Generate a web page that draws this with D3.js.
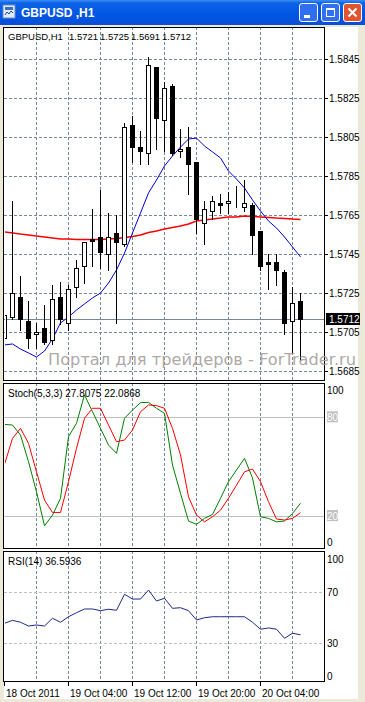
<!DOCTYPE html>
<html>
<head>
<meta charset="utf-8">
<script src="https://cdnjs.cloudflare.com/ajax/libs/d3/7.8.5/d3.min.js"></script>
<style>
body { margin:0; background:#ece9d8; overflow:hidden; }
svg text { font-family: "Liberation Sans", Arial, sans-serif; }
</style>
</head>
<body>
<div id="chart"></div>
<script>
// bars: GBPUSD H1, 18 Oct 20:00 .. 20 Oct 09:00
var open  = [1.5702,1.5713,1.5723,1.5711,1.5704,1.5707,1.5701,1.5723,1.5710,1.5728,1.5739,1.5753,1.5754,1.5745,1.5756,1.5750,1.5811,1.5800,1.5797,1.5841,1.5814,1.5831,1.5798,1.5800,1.5792,1.5761,1.5767,1.5771,1.5771,1.5771,1.5769,1.5770,1.5757,1.5741,1.5741,1.5736,1.5711,1.5721];
var high  = [1.5715,1.5772,1.5734,1.5721,1.5710,1.5719,1.5729,1.5731,1.5729,1.5742,1.5751,1.5768,1.5778,1.5766,1.5765,1.5812,1.5816,1.5808,1.5846,1.5841,1.5833,1.5832,1.5809,1.5810,1.5792,1.5772,1.5775,1.5776,1.5777,1.5780,1.5783,1.5771,1.5757,1.5745,1.5745,1.5737,1.5728,1.5725];
var low   = [1.5701,1.5712,1.5706,1.5697,1.5697,1.5699,1.5699,1.5709,1.5706,1.5723,1.5730,1.5739,1.5738,1.5737,1.5710,1.5749,1.5792,1.5791,1.5791,1.5799,1.5798,1.5796,1.5795,1.5776,1.5756,1.5750,1.5763,1.5766,1.5766,1.5769,1.5767,1.5745,1.5737,1.5727,1.5729,1.5704,1.5695,1.5691];
var close = [1.5714,1.5725,1.5712,1.5702,1.5705,1.5700,1.5722,1.5712,1.5727,1.5738,1.5751,1.5752,1.5746,1.5754,1.5751,1.5810,1.5800,1.5798,1.5842,1.5815,1.5830,1.5797,1.5799,1.5791,1.5763,1.5768,1.5772,1.5770,1.5772,1.5771,1.5771,1.5755,1.5739,1.5740,1.5737,1.5710,1.5720,1.5712];

var maFast = [1.56985,1.56990,1.56964,1.56944,1.56923,1.56954,1.57016,1.57098,1.57128,1.57164,1.57195,1.57226,1.57251,1.57302,1.57369,1.57456,1.57559,1.57661,1.57764,1.57830,1.57902,1.57953,1.57999,1.58040,1.58045,1.58004,1.57974,1.57943,1.57876,1.57835,1.57789,1.57728,1.57671,1.57620,1.57584,1.57538,1.57487,1.57436];
var maSlow = [1.57564,1.57559,1.57553,1.57548,1.57543,1.57538,1.57533,1.57528,1.57528,1.57525,1.57525,1.57525,1.57525,1.57528,1.57530,1.57536,1.57541,1.57548,1.57561,1.57569,1.57579,1.57587,1.57594,1.57605,1.57620,1.57625,1.57630,1.57635,1.57641,1.57641,1.57646,1.57643,1.57641,1.57638,1.57635,1.57633,1.57630,1.57628];

var stochMain   = [75.7,75.3,69.2,53.0,34.8,14.1,20.6,30.8,68.2,76.4,93.6,83.4,73.3,63.2,58.1,79.4,84.4,88.9,89.1,85.5,82.4,51.0,33.8,17.0,15.0,18.6,21.0,30.8,40.9,48.0,55.1,43.1,19.6,18.6,16.5,17.0,21.6,27.8075];
var stochSignal = [51.4,67.2,73.3,64.2,46.9,29.7,22.2,22.2,40.9,61.2,79.4,85.5,85.5,75.3,65.2,66.2,72.3,83.4,87.5,87.1,85.5,73.3,57.1,31.7,20.6,16.5,19.6,23.6,30.8,38.8,46.9,48.6,40.9,28.7,18.2,17.6,18.6,22.0868];
var rsi = [45.5,47.8,46.3,43.4,44.2,43.4,49.4,46.3,50.6,53.7,56.6,56.6,55.3,56.4,55.6,68.0,64.3,64.3,71.3,62.8,64.9,57.1,57.6,55.3,48.1,49.8,50.6,50.6,50.6,50.6,50.6,46.3,40.9,41.9,40.9,33.9,37.8,36.5936];

var priceTicks = [1.5845,1.5825,1.5805,1.5785,1.5765,1.5745,1.5725,1.5705,1.5685];
var gridBars = [4,8,12,16,20,24,28,32,36];
var xLabelBars = [0,8,16,24,32];
var xLabels = ["18 Oct 2011","19 Oct 04:00","19 Oct 12:00","19 Oct 20:00","20 Oct 04:00"];
var stochLevels = [80,20];
var rsiLevels = [70,30];

var W = 365, H = 702;
var L = 4, R = 324;
var main = {top:27, bottom:381}, sto = {top:383, bottom:549}, rs = {top:551, bottom:682};

var svg = d3.select("#chart").append("svg")
  .attr("width", W).attr("height", H);

var defs = svg.append("defs");
var grad = defs.append("linearGradient").attr("id","tb")
  .attr("x1",0).attr("y1",0).attr("x2",0).attr("y2",1);
grad.append("stop").attr("offset","0%").attr("stop-color","#3d8ff6");
grad.append("stop").attr("offset","12%").attr("stop-color","#0c63e6");
grad.append("stop").attr("offset","60%").attr("stop-color","#0055e3");
grad.append("stop").attr("offset","100%").attr("stop-color","#0a4fd6");

// chart background
svg.append("rect").attr("x",0).attr("y",25).attr("width",W).attr("height",H-25).attr("fill","#ece9d8");
svg.append("rect").attr("x",L).attr("y",main.top).attr("width",358-L).attr("height",rs.bottom+17-main.top).attr("fill","#fff");

// title bar
svg.append("rect").attr("x",0).attr("y",0).attr("width",W).attr("height",25).attr("fill","url(#tb)");
var icon = svg.append("g").attr("transform","translate(3,5)");
icon.append("rect").attr("width",12).attr("height",13).attr("fill","#dfe9f7").attr("stroke","#6d8cc4");
icon.append("rect").attr("x",2).attr("y",2).attr("width",8).attr("height",3).attr("fill","#3a6fc8");
icon.append("path").attr("d","M2,10 L4,7 L6,9 L8,6 L10,8").attr("fill","none").attr("stroke","#1c4fa8");
svg.append("text").attr("x",21).attr("y",17).attr("fill","#fff")
  .style("font-weight","bold").style("font-size","12px").text("GBPUSD ,H1");

function button(x, fill, kind) {
  var g = svg.append("g").attr("transform","translate(" + x + ",3)");
  g.append("rect").attr("x",0.5).attr("y",0.5).attr("width",18).attr("height",18).attr("rx",2.5)
    .attr("fill",fill).attr("stroke","#fff");
  if (kind == "min") g.append("rect").attr("x",5).attr("y",12).attr("width",6).attr("height",3).attr("fill","#fff");
  if (kind == "max") {
    g.append("rect").attr("x",5.5).attr("y",5.5).attr("width",8).attr("height",8).attr("fill","none").attr("stroke","#fff");
    g.append("rect").attr("x",5).attr("y",5).attr("width",9).attr("height",2).attr("fill","#fff");
  }
  if (kind == "close") g.append("path").attr("d","M5.5,5.5 L13.5,13.5 M13.5,5.5 L5.5,13.5")
    .attr("stroke","#fff").attr("stroke-width",2);
}
button(299,"#2f6ff0","min");
button(321,"#2f6ff0","max");
button(343,"#e0552f","close");

var x = d3.scaleLinear().domain([0, open.length - 1]).range([4.5, 300.5]);
var yMain = d3.scaleLinear().domain([1.5685, 1.5845]).range([371.3, 59]);
var ySto = d3.scaleLinear().domain([0, 100]).range([549, 384.4]);
var yRsi = d3.scaleLinear().domain([0, 100]).range([682, 553]);

function px(v) { return Math.round(v) + 0.5; }

defs.append("clipPath").attr("id","cm").append("rect")
  .attr("x",L+1).attr("y",main.top+1).attr("width",R-L-1).attr("height",main.bottom-main.top-1);
defs.append("clipPath").attr("id","cs").append("rect")
  .attr("x",L+1).attr("y",sto.top+1).attr("width",R-L-1).attr("height",sto.bottom-sto.top-1);
defs.append("clipPath").attr("id","cr").append("rect")
  .attr("x",L+1).attr("y",rs.top+1).attr("width",R-L-1).attr("height",rs.bottom-rs.top-1);

// grid
var grid = svg.append("g").attr("stroke","#778899").attr("stroke-dasharray","3,2");
[main, sto, rs].forEach(function(p) {
  grid.selectAll(null).data(gridBars).enter().append("line")
    .attr("x1", d => px(x(d) - 0.5)).attr("x2", d => px(x(d) - 0.5))
    .attr("y1", p.top).attr("y2", p.bottom);
});
grid.selectAll(".hg").data(priceTicks).enter().append("line")
  .attr("x1", L).attr("x2", R)
  .attr("y1", d => px(yMain(d))).attr("y2", d => px(yMain(d)));
svg.append("line").attr("x1",L).attr("x2",R).attr("y1",px(ySto(0))-1).attr("y2",px(ySto(0))-1)
  .attr("stroke","#778899").attr("stroke-dasharray","3,2");

// levels
svg.selectAll(".sl").data(stochLevels).enter().append("line")
  .attr("x1",L).attr("x2",R).attr("y1", d => px(ySto(d))).attr("y2", d => px(ySto(d)))
  .attr("stroke","#c0c0c0");
svg.selectAll(".rl").data(rsiLevels).enter().append("line")
  .attr("x1",L).attr("x2",R).attr("y1", d => px(yRsi(d))).attr("y2", d => px(yRsi(d)))
  .attr("stroke","#c0c0c0").attr("stroke-dasharray","3,2");

// price line
svg.append("line").attr("x1",L).attr("x2",R)
  .attr("y1",px(yMain(close[close.length-1]))).attr("y2",px(yMain(close[close.length-1])))
  .attr("stroke","#778899");

// moving averages
var gm = svg.append("g").attr("clip-path","url(#cm)");
var lineM = d3.line().x((d,i) => x(i)).y(d => yMain(d));
gm.append("path").datum(maSlow).attr("d",lineM).attr("fill","none").attr("stroke","#ff0000").attr("stroke-width",1.5);
gm.append("path").datum(maFast).attr("d",lineM).attr("fill","none").attr("stroke","#0000e0").attr("stroke-width",1);

// candles
var bars = d3.range(open.length);
gm.selectAll(".wick").data(bars).enter().append("line")
  .attr("x1", i => px(x(i) - 0.5)).attr("x2", i => px(x(i) - 0.5))
  .attr("y1", i => Math.round(yMain(high[i]))).attr("y2", i => Math.round(yMain(low[i])) + 1)
  .attr("stroke","#000");
gm.selectAll(".body").data(bars).enter().append("rect")
  .each(function(i) {
    var y1 = Math.round(yMain(Math.max(open[i], close[i])));
    var y2 = Math.round(yMain(Math.min(open[i], close[i])));
    var cx = Math.round(x(i) - 0.5);
    var s = d3.select(this);
    if (close[i] >= open[i]) {
      s.attr("x", cx - 1.5).attr("y", y1 + 0.5).attr("width", 4).attr("height", Math.max(y2 - y1, 0))
        .attr("fill","#fff").attr("stroke","#000");
    } else {
      s.attr("x", cx - 2).attr("y", y1).attr("width", 5).attr("height", Math.max(y2 - y1, 1) + 1)
        .attr("fill","#000");
    }
  });

// stochastic
var gs = svg.append("g").attr("clip-path","url(#cs)");
var lineS = d3.line().x((d,i) => x(i)).y(d => ySto(d));
gs.append("path").datum(stochMain).attr("d",lineS).attr("fill","none").attr("stroke","#008000");
gs.append("path").datum(stochSignal).attr("d",lineS).attr("fill","none").attr("stroke","#ff0000");

// rsi
var gr = svg.append("g").attr("clip-path","url(#cr)");
var lineR = d3.line().x((d,i) => x(i)).y(d => yRsi(d));
gr.append("path").datum(rsi).attr("d",lineR).attr("fill","none").attr("stroke","#1e2a8a");

// frames
[main, sto, rs].forEach(function(p) {
  svg.append("rect").attr("x",L - 0.5).attr("y",p.top + 0.5).attr("width",R - L + 1).attr("height",p.bottom - p.top - 1)
    .attr("fill","none").attr("stroke","#000");
});

// price axis
var ax = svg.append("g").style("font-size","10px");
ax.selectAll("line").data(priceTicks).enter().append("line")
  .attr("x1",R).attr("x2",R + 4).attr("y1", d => px(yMain(d))).attr("y2", d => px(yMain(d))).attr("stroke","#000");
ax.selectAll("text").data(priceTicks).enter().append("text")
  .attr("x",R + 5).attr("y", d => yMain(d) + 4).text(d => d.toFixed(4));

var last = close[close.length-1];
svg.append("rect").attr("x",R + 2).attr("y",Math.round(yMain(last)) - 6).attr("width",34).attr("height",12).attr("fill","#000");
svg.append("text").attr("x",R + 5).attr("y",yMain(last) + 4).attr("fill","#fff").style("font-size","10px").text(last.toFixed(4));

// indicator axes
function sideLabel(y, t, boxed) {
  if (boxed) svg.append("rect").attr("x",R + 3).attr("y",y - 6).attr("width",11).attr("height",11).attr("fill","#c0c0c0");
  svg.append("text").attr("x",R + 3).attr("y",y + 4).attr("fill", boxed ? "#fff" : "#000")
    .style("font-size","10px").text(t);
}
sideLabel(ySto(100) + 6, "100", false);
stochLevels.forEach(d => sideLabel(ySto(d), d, true));
sideLabel(ySto(0) - 7, "0", false);
sideLabel(yRsi(100) + 6, "100", false);
rsiLevels.forEach(d => sideLabel(yRsi(d), d, false));
sideLabel(yRsi(0) - 6, "0", false);

// time axis
var tx = svg.append("g").style("font-size","10px");
tx.selectAll("line").data(xLabelBars).enter().append("line")
  .attr("x1", d => px(x(d) - 0.5)).attr("x2", d => px(x(d) - 0.5))
  .attr("y1", rs.bottom).attr("y2", rs.bottom + 4).attr("stroke","#000");
tx.selectAll("text").data(xLabelBars).enter().append("text")
  .attr("x", d => x(d) + 1.5).attr("y", rs.bottom + 15).text((d,i) => xLabels[i]);

// panel titles
var hd = svg.append("g").style("font-size","9.5px");
hd.append("text").attr("x",8).attr("y",40).text("GBPUSD,H1");
[open, high, low, close].forEach(function(a, j) {
  hd.append("text").attr("x",69 + j * 31).attr("y",40).text(a[a.length-1].toFixed(4));
});
hd.append("text").attr("x",8).attr("y",397).style("font-size","10px")
  .text("Stoch(5,3,3) " + stochMain[stochMain.length-1].toFixed(4) + " " + stochSignal[stochSignal.length-1].toFixed(4));
hd.append("text").attr("x",8).attr("y",565).style("font-size","10px").text("RSI(14) " + rsi[rsi.length-1].toFixed(4));

// watermark
svg.append("text").attr("x",48).attr("y",365)
  .attr("textLength",308).attr("lengthAdjust","spacingAndGlyphs")
  .attr("fill","#a39d9b").attr("fill-opacity",0.9)
  .style("font-family","'DejaVu Sans', sans-serif").style("font-size","15.5px")
  .text("Портал для трейдеров - ForTrader.ru");
</script>
</body>
</html>
